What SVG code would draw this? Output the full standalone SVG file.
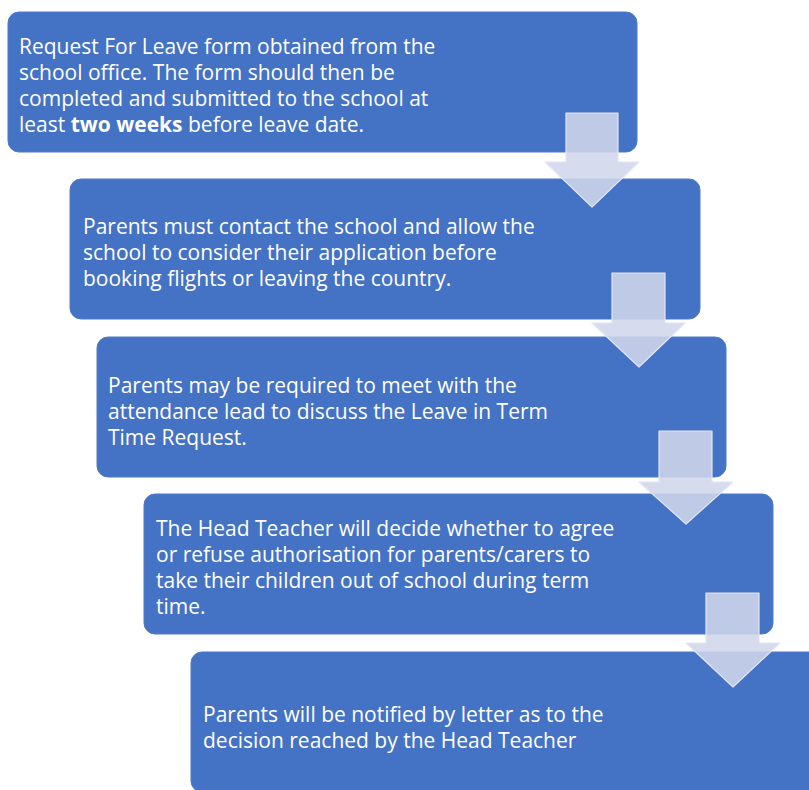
<svg xmlns="http://www.w3.org/2000/svg" width="809" height="790" viewBox="0 0 809 790">
<style>
.box{fill:#4472c4;stroke:#4f7bc8;stroke-width:1}
.t{font-family:"Open Sans","Liberation Sans",sans-serif;font-size:21px;fill:#ffffff}
.arr{fill:#d0d6ec;fill-opacity:0.88;stroke:#e2e6f4;stroke-width:1.2;stroke-linejoin:round}
</style>
<rect width="809" height="790" fill="#ffffff"/>
<g id="node1">
<rect class="box" x="8" y="12" width="629" height="140" rx="11"/>
<text class="t" x="19" y="54">Request For Leave form obtained from the</text>
<text class="t" x="19" y="80">school office. The form should then be</text>
<text class="t" x="19" y="106">completed and submitted to the school at</text>
<text class="t" x="19" y="132">least <tspan font-weight="bold">two weeks</tspan> before leave date.</text>
</g>
<g id="node2">
<rect class="box" x="70" y="179" width="630" height="140" rx="11"/>
<text class="t" x="83" y="234">Parents must contact the school and allow the</text>
<text class="t" x="83" y="260">school to consider their application before</text>
<text class="t" x="83" y="286">booking flights or leaving the country.</text>
</g>
<g id="node3">
<rect class="box" x="97" y="337" width="629" height="140" rx="11"/>
<text class="t" x="108" y="393">Parents may be required to meet with the</text>
<text class="t" x="108" y="419">attendance lead to discuss the Leave in Term</text>
<text class="t" x="108" y="445">Time Request.</text>
</g>
<g id="node4">
<rect class="box" x="144" y="494" width="629" height="140" rx="11"/>
<text class="t" x="156" y="536">The Head Teacher will decide whether to agree</text>
<text class="t" x="156" y="562">or refuse authorisation for parents/carers to</text>
<text class="t" x="156" y="588">take their children out of school during term</text>
<text class="t" x="156" y="614">time.</text>
</g>
<g id="node5">
<rect class="box" x="191" y="652" width="629" height="140" rx="11"/>
<text class="t" x="203" y="722">Parents will be notified by letter as to the</text>
<text class="t" x="203" y="748">decision reached by the Head Teacher</text>
</g>
<g id="connectors">
<polygon class="arr" points="566,113 618,113 618,162 639,162 592,207 545,162 566,162"/>
<polygon class="arr" points="612,273 665,273 665,323 685,323 639,367 592,323 612,323"/>
<polygon class="arr" points="659,431 712,431 712,482 733,482 686,524 639,482 659,482"/>
<polygon class="arr" points="706,593 759,593 759,643 780,643 733,687 686,643 706,643"/>
</g>
</svg>
